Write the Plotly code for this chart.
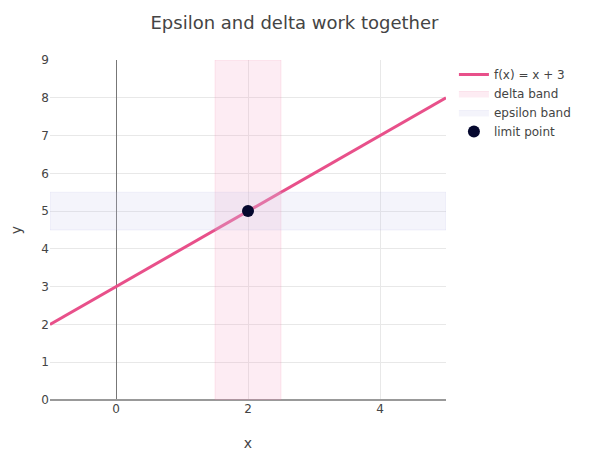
import plotly.graph_objects as go

x_line = [-1, 5]
y_line = [2, 8]
delta_x = [1.5, 2.5]
epsilon_y = [4.5, 5.5]
y_full = [0, 9]
x_full = [-1, 5]
limit_x = [2]
limit_y = [5]

fig = go.Figure()

fig.add_trace(go.Scatter(
    x=x_line, y=y_line, mode="lines", name="f(x) = x + 3",
    line=dict(color="#e8508a", width=3),
))

# delta band: vertical strip across the whole y range
fig.add_trace(go.Scatter(
    x=[delta_x[0], delta_x[1], delta_x[1], delta_x[0], delta_x[0]],
    y=[y_full[0], y_full[0], y_full[1], y_full[1], y_full[0]],
    mode="lines", fill="toself", name="delta band",
    fillcolor="rgba(246,160,195,0.2)",
    line=dict(color="rgba(232,80,138,0.12)", width=1),
    hoverinfo="skip",
))

# epsilon band: horizontal strip across the whole x range
fig.add_trace(go.Scatter(
    x=[x_full[0], x_full[1], x_full[1], x_full[0], x_full[0]],
    y=[epsilon_y[0], epsilon_y[0], epsilon_y[1], epsilon_y[1], epsilon_y[0]],
    mode="lines", fill="toself", name="epsilon band",
    fillcolor="rgba(200,200,235,0.2)",
    line=dict(color="rgba(150,150,220,0.1)", width=1),
    hoverinfo="skip",
))

fig.add_trace(go.Scatter(
    x=limit_x, y=limit_y, mode="markers", name="limit point",
    marker=dict(color="#05082e", size=12),
))

fig.update_layout(
    template="plotly_white",
    width=573, height=450,
    font=dict(family="DejaVu Sans", color="#444"),
    title=dict(text="Epsilon and delta work together", x=0.5, y=0.967, yanchor="middle",
               font=dict(size=18)),
    xaxis=dict(title=dict(text="x", standoff=23), range=x_full, zeroline=True,
               zerolinecolor="#777", zerolinewidth=1, dtick=2, showline=False,
               gridcolor="#e8e8e8", automargin=False),
    yaxis=dict(title=dict(text="y", standoff=26), range=y_full, zeroline=True,
               zerolinecolor="#999", zerolinewidth=2, dtick=1, gridcolor="#e8e8e8",
               automargin=True),
    margin=dict(l=42, r=135, t=52, b=58, autoexpand=False),
    legend=dict(x=1.02, y=1, font=dict(size=12)),
)

fig.write_html("out.html")
